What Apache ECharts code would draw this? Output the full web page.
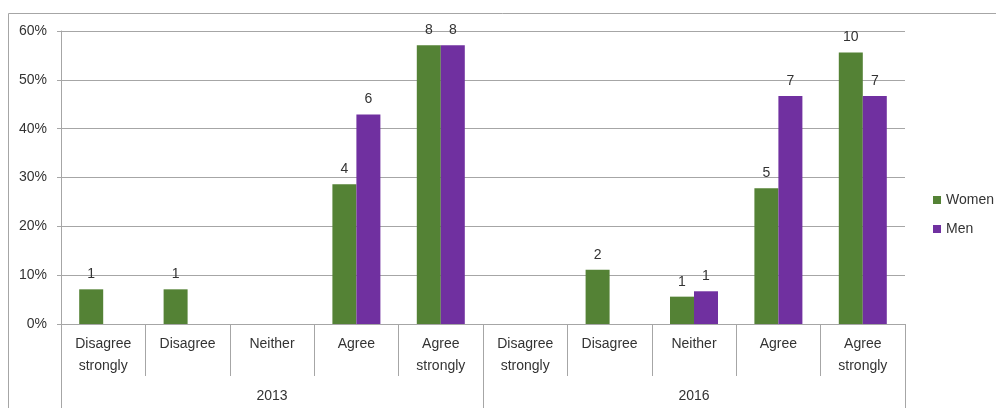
<!DOCTYPE html>
<html>
<head>
<meta charset="utf-8">
<script src="https://cdn.jsdelivr.net/npm/echarts@6/dist/echarts.min.js"></script>
<style>
  html, body { margin: 0; padding: 0; background: #fff; }
  #chart { width: 996px; height: 408px; }
</style>
</head>
<body>
<div id="chart"></div>
<script>
// data
const years = ['2013', '2016'];
const answers = ['Disagree\nstrongly', 'Disagree', 'Neither', 'Agree', 'Agree\nstrongly'];
// share of respondents (fraction)
const womenShare = [0.071, 0.071, null, 0.286, 0.571,  null, 0.111, 0.056, 0.278, 0.556];
const menShare   = [null, null, null, 0.429, 0.571,  null, null, 0.067, 0.467, 0.467];
// counts printed above the bars
const womenCount = [1, 1, null, 4, 8,  null, 2, 1, 5, 10];
const menCount   = [null, null, null, 6, 8,  null, null, 1, 7, 7];
const yTicks = [0, 0.1, 0.2, 0.3, 0.4, 0.5, 0.6];

const gray = '#a6a6a6';
const font = 'Liberation Sans';
const txt = '#333333';

// unique keys for the inner category axis
let keys = [];
years.forEach(y => answers.forEach(a => keys.push(y + '|' + a)));

let chart = echarts.init(document.getElementById('chart'));
let option = {
  animation: false,
  textStyle: { fontFamily: font },
  graphic: [{
    type: 'rect',
    shape: { x: 8.5, y: 13.5, width: 1100, height: 600 },
    style: { fill: 'none', stroke: gray, lineWidth: 1 },
    silent: true
  }],
  grid: { left: 61, right: 91, top: 31, bottom: 84 },
  legend: {
    orient: 'vertical',
    left: 928,
    top: 188,
    itemWidth: 8,
    itemHeight: 8,
    itemGap: 15,
    icon: 'rect',
    textStyle: { fontFamily: font, fontSize: 14, color: txt },
    data: ['Women', 'Men']
  },
  xAxis: [
    {
      type: 'category',
      data: keys,
      position: 'bottom',
      axisLine: { lineStyle: { color: gray } },
      axisTick: { show: true, interval: 0, length: 52, lineStyle: { color: gray } },
      axisLabel: {
        interval: 0, margin: 9, lineHeight: 22, fontSize: 14, color: txt, fontFamily: font,
        formatter: v => v.split('|')[1]
      }
    },
    {
      type: 'category',
      data: years,
      position: 'bottom',
      offset: 0,
      axisLine: { show: false },
      axisTick: { show: true, interval: 0, length: 100, lineStyle: { color: gray } },
      axisLabel: { margin: 65, fontSize: 14, color: txt, fontFamily: font }
    }
  ],
  yAxis: {
    type: 'value',
    min: yTicks[0],
    max: yTicks[yTicks.length - 1],
    interval: 0.1,
    axisLine: { show: true, lineStyle: { color: gray } },
    axisTick: { show: true, length: 4, lineStyle: { color: gray } },
    splitLine: { lineStyle: { color: gray } },
    axisLabel: {
      margin: 14, fontSize: 14, color: txt, fontFamily: font,
      formatter: v => Math.round(v * 100) + '%'
    }
  },
  series: [
    {
      name: 'Women',
      type: 'bar',
      xAxisIndex: 0,
      barWidth: 24,
      barGap: '0%',
      itemStyle: { color: '#548235' },
      label: {
        show: true, position: 'top', distance: 8, fontSize: 14, color: txt, fontFamily: font,
        formatter: p => womenCount[p.dataIndex] == null ? '' : String(womenCount[p.dataIndex])
      },
      data: womenShare
    },
    {
      name: 'Men',
      type: 'bar',
      xAxisIndex: 0,
      barWidth: 24,
      barGap: '0%',
      itemStyle: { color: '#7030a0' },
      label: {
        show: true, position: 'top', distance: 8, fontSize: 14, color: txt, fontFamily: font,
        formatter: p => menCount[p.dataIndex] == null ? '' : String(menCount[p.dataIndex])
      },
      data: menShare
    }
  ]
};
chart.setOption(option);
</script>
</body>
</html>
